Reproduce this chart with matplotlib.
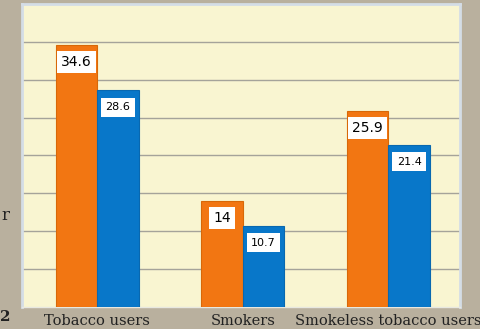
import numpy as np
import matplotlib
matplotlib.use("Agg")
import matplotlib.pyplot as plt

categories = ["Tobacco users", "Smokers", "Smokeless tobacco users"]
series_a = [34.6, 14, 25.9]   # orange
series_b = [28.6, 10.7, 21.4] # blue

BG = "#b9b09e"
PANEL = "#f9f5d1"
ORANGE = "#f27612"
BLUE = "#0877c9"

fig = plt.figure(figsize=(4.81, 3.29), dpi=100, facecolor=BG)
ax = fig.add_axes([0.046, 0.067, 0.91, 0.921])
ax.set_facecolor(PANEL)

x = np.arange(len(categories))
w = 0.285
ba = ax.bar(x - w/2, series_a, w, color=ORANGE, edgecolor="#d86808", linewidth=0.8, zorder=3)
bb = ax.bar(x + w/2, series_b, w, color=BLUE, edgecolor="#0868b0", linewidth=0.8, zorder=3)

for rect, v in zip(ba, series_a):
    ax.annotate(f"{v:g}", (rect.get_x() + rect.get_width()/2, v), xytext=(0, -17),
                textcoords="offset pixels", ha="center", va="center", fontsize=10,
                family="DejaVu Sans", color="black", zorder=5,
                bbox=dict(boxstyle="square,pad=0.3", fc="white", ec="none"))
for rect, v in zip(bb, series_b):
    ax.annotate(f"{v:g}", (rect.get_x() + rect.get_width()/2, v), xytext=(0, -17),
                textcoords="offset pixels", ha="center", va="center", fontsize=8,
                family="DejaVu Sans", color="black", zorder=5,
                bbox=dict(boxstyle="square,pad=0.4", fc="white", ec="none"))

ax.set_xlim(-0.515, 2.49)
ax.set_ylim(0, 40)
ax.set_yticks(np.arange(5, 40, 5))
ax.yaxis.grid(True, color="#a5a39a", linewidth=1, zorder=1)
ax.tick_params(axis="y", left=False, labelleft=False)
ax.tick_params(axis="x", length=0, pad=5)
ax.set_xticks(x)
ax.set_xticklabels(categories, family="DejaVu Serif", fontsize=10.5, color="#222222")

for s in ["left", "right", "top"]:
    ax.spines[s].set_color("#d4dde6")
    ax.spines[s].set_linewidth(2)
ax.spines["bottom"].set_color("#e8e8e0")
ax.spines["bottom"].set_linewidth(1)

# remnants of slide text at the left edge
fig.text(0.002, 0.345, "r", fontsize=12, family="DejaVu Serif", color="#222222", va="center")
fig.text(0.0, 0.035, "2", fontsize=11, family="DejaVu Serif", fontweight="bold", color="#222222", va="center")

fig.savefig("out.png", dpi=100, facecolor=BG)
